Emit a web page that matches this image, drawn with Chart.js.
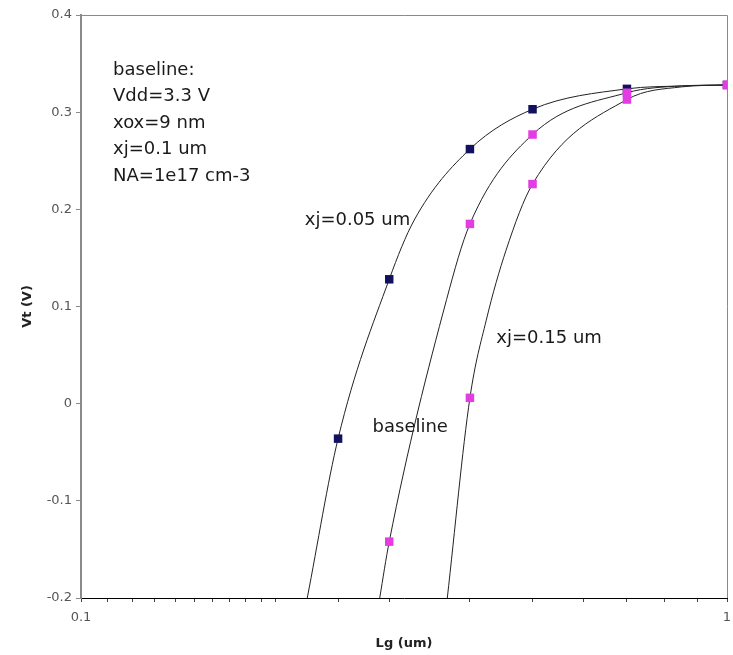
<!DOCTYPE html>
<html>
<head>
<meta charset="utf-8">
<script src="https://cdn.jsdelivr.net/npm/chart.js@4.4.1/dist/chart.umd.min.js"></script>
<style>
  html, body { margin: 0; padding: 0; background: #fff; overflow: hidden; }
  #wrap { width: 733px; height: 655px; position: relative; }
</style>
</head>
<body>
<div id="wrap"><canvas id="c" width="733" height="655"></canvas></div>
<script>
// ---- data ----
// measured points (markers)
const lgXj005 = [0.25, 0.3, 0.4, 0.5, 0.7, 1.0];
const vtXj005 = [-0.036, 0.128, 0.262, 0.303, 0.324, 0.328];
const lgBase = [0.3, 0.4, 0.5, 0.7, 1.0];
const vtBase = [-0.142, 0.185, 0.277, 0.320, 0.328];
const lgXj015 = [0.4, 0.5, 0.7, 1.0];
const vtXj015 = [0.006, 0.226, 0.313, 0.328];

// smooth model curves
const curveLgXj005 = [0.224, 0.25, 0.3, 0.328, 0.4, 0.5, 0.7, 0.85, 1.0];
const curveVtXj005 = [-0.2, -0.036, 0.128, 0.189, 0.262, 0.303, 0.324, 0.327, 0.328];
const curveLgBase = [0.29, 0.3, 0.368, 0.4, 0.5, 0.7, 0.85, 1.0];
const curveVtBase = [-0.2, -0.142, 0.107, 0.185, 0.277, 0.320, 0.327, 0.328];
const curveLgXj015 = [0.369, 0.4, 0.424, 0.455, 0.5, 0.7, 0.85, 1.0];
const curveVtXj015 = [-0.2, 0.006, 0.086, 0.158, 0.226, 0.313, 0.326, 0.328];

// axis tick labels shown
const xTickLabels = [0.1, 1];
const yTicks = [-0.2, -0.1, 0, 0.1, 0.2, 0.3, 0.4];

// text annotations placed in data coordinates
const noteLines = ['baseline:', 'Vdd=3.3 V', 'xox=9 nm', 'xj=0.1 um', 'NA=1e17 cm-3'];
const curveLabels = [
  { text: 'xj=0.05 um', lg: 0.2220, vt: 0.189 },
  { text: 'xj=0.15 um', lg: 0.4395, vt: 0.0676 },
  { text: 'baseline',   lg: 0.2827, vt: -0.024 }
];
const noteAnchor = { lg: 0.1121, vt: 0.3433 };

const pts = (xs, ys) => xs.map((x, i) => ({ x: x, y: ys[i] }));

const NAVY = '#11115e';
const MAG = '#e23ce2';
const FONT = '"DejaVu Sans", "Liberation Sans", Arial, sans-serif';

const curveStyle = {
  type: 'line', showLine: true, pointRadius: 0, borderColor: '#222', borderWidth: 1,
  cubicInterpolationMode: 'monotone', fill: false, order: 5
};

const frame = {
  id: 'frame',
  afterDatasetsDraw(chart) {
    const { ctx, chartArea: a, scales } = chart;
    ctx.save();
    ctx.strokeStyle = '#8a8a8a';
    ctx.lineWidth = 1;
    ctx.beginPath();
    ctx.moveTo(a.left, a.top + 0.5); ctx.lineTo(a.right + 0.5, a.top + 0.5);
    ctx.lineTo(a.right + 0.5, a.bottom);
    ctx.stroke();
    ctx.fillStyle = '#1a1a1a';
    ctx.font = '18px ' + FONT;
    ctx.textBaseline = 'middle';
    ctx.textAlign = 'left';
    const x0 = scales.x.getPixelForValue(noteAnchor.lg);
    const y0 = scales.y.getPixelForValue(noteAnchor.vt);
    noteLines.forEach((t, i) => ctx.fillText(t, x0, y0 + i * 26.5));
    curveLabels.forEach(l => {
      ctx.fillText(l.text, scales.x.getPixelForValue(l.lg), scales.y.getPixelForValue(l.vt));
    });
    ctx.restore();
  }
};

new Chart(document.getElementById('c'), {
  type: 'scatter',
  data: {
    datasets: [
      Object.assign({ label: 'curve xj=0.05', data: pts(curveLgXj005, curveVtXj005) }, curveStyle),
      Object.assign({ label: 'curve baseline', data: pts(curveLgBase, curveVtBase) }, curveStyle),
      Object.assign({ label: 'curve xj=0.15', data: pts(curveLgXj015, curveVtXj015) }, curveStyle),
      { label: 'xj=0.05 um', data: pts(lgXj005, vtXj005), pointStyle: 'rect', pointRadius: 6,
        backgroundColor: NAVY, borderColor: NAVY, borderWidth: 0, order: 3 },
      { label: 'xj=0.15 um', data: pts(lgXj015, vtXj015), pointStyle: 'rect', pointRadius: 6,
        backgroundColor: MAG, borderColor: MAG, borderWidth: 0, order: 2 },
      { label: 'baseline', data: pts(lgBase, vtBase), pointStyle: 'rect', pointRadius: 6,
        backgroundColor: MAG, borderColor: MAG, borderWidth: 0, order: 1 }
    ]
  },
  options: {
    responsive: false,
    animation: false,
    events: [],
    layout: { padding: { top: 15, right: 5, left: 0, bottom: 0 } },
    plugins: { legend: { display: false }, tooltip: { enabled: false } },
    scales: {
      x: {
        type: 'logarithmic', min: 0.1, max: 1,
        afterFit(s) { s.height = 57; s.paddingRight = 0; s.paddingLeft = 0; },
        border: { color: '#000', width: 1 },
        grid: { drawOnChartArea: false, drawTicks: true, tickLength: 4, color: '#444' },
        ticks: {
          autoSkip: false, maxRotation: 0, padding: 8, color: '#555',
          font: { family: FONT, size: 13 },
          callback: (v) => xTickLabels.some(t => Math.abs(t - v) < 1e-9) ? String(v) : ''
        },
        title: { display: true, text: 'Lg (um)', color: '#222',
          font: { family: FONT, size: 13, weight: 'bold' }, padding: { top: 0, bottom: 4 } }
      },
      y: {
        min: -0.2, max: 0.4,
        afterFit(s) { s.width = 81; },
        afterBuildTicks(s) { s.ticks = yTicks.map(v => ({ value: v })); },
        border: { color: '#8a8a8a', width: 2 },
        grid: { drawOnChartArea: false, drawTicks: true, tickLength: 5, color: '#8a8a8a' },
        ticks: { padding: 4, color: '#555', font: { family: FONT, size: 13 },
          callback: (v) => String(Math.round(v * 10) / 10) },
        title: { display: true, text: 'Vt (V)', color: '#222',
          font: { family: FONT, size: 13, weight: 'bold' }, padding: { top: 20, bottom: 0 } }
      }
    }
  },
  plugins: [frame]
});
</script>
</body>
</html>
